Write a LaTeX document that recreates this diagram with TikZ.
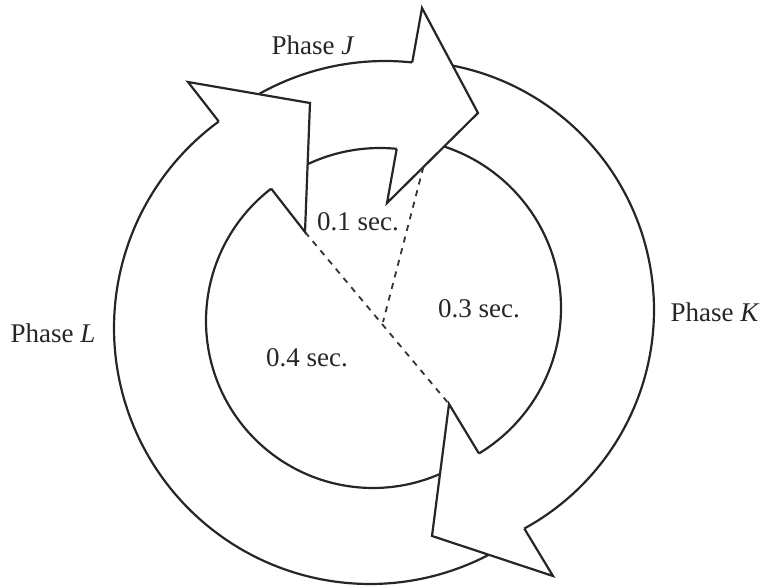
\documentclass[tikz,border=0pt]{standalone}
\usepackage{fontspec}
\setmainfont{Liberation Serif}
\usetikzlibrary{intersections,calc}
\begin{document}
\begin{tikzpicture}[x=1pt,y=-1pt, line join=miter,
  edge/.style={line width=2.2pt, draw=black!85},
  sep/.style={line width=1.8pt, draw=black!80, dash pattern=on 6pt off 6pt},
  lbl/.style={font=\fontsize{27}{31}\selectfont, text=black!85, inner sep=0pt}]
\useasboundingbox (0,0) rectangle (761,588);

% ---- shafts (circular arcs, ends hidden under arrowheads)
% Phase L
\draw[edge, name path=Lo] plot[domain=60:240, samples=90, smooth] ({370+256*cos(\x)},{328+256*sin(\x)});
\draw[edge, name path=Li] plot[domain=60:240, samples=90, smooth] ({373+167*cos(\x)},{321+167*sin(\x)});
% Phase J
\draw[edge, name path=Jo] plot[domain=238:282, samples=30, smooth] ({385+257*cos(\x)},{318+257*sin(\x)});
\draw[edge, name path=Ji] plot[domain=240:285, samples=30, smooth] ({380+170*cos(\x)},{318+170*sin(\x)});
% Phase K
\draw[edge, name path=Ko] plot[domain=-84:65, samples=80, smooth] ({405+249*cos(\x)},{310+249*sin(\x)});
\draw[edge, name path=Ki] plot[domain=-78:66, samples=80, smooth] ({391+170*cos(\x)},{308+170*sin(\x)});

% ---- arrowhead corners
\coordinate (Lbo) at (188,82);  \coordinate (Lt) at (310,103); \coordinate (Lbi) at (305,232);
\coordinate (Jbo) at (422,8);   \coordinate (Jt) at (478,113); \coordinate (Jbi) at (387,203);
\coordinate (Kbo) at (553,576); \coordinate (Kt) at (432,536); \coordinate (Kbi) at (449,404);

% back edges and notches
\path[name path=Lb] (Lbo) -- (Lbi);
\path[name path=Jb] (Jbo) -- (Jbi);
\path[name path=Kb] (Kbo) -- (Kbi);
\path[name intersections={of=Lo and Lb, by=Lno}];
\path[name intersections={of=Li and Lb, by=Lni}];
\path[name intersections={of=Jo and Jb, by=Jno}];
\path[name intersections={of=Ji and Jb, by=Jni}];
\path[name intersections={of=Ko and Kb, by=Kno}];
\path[name intersections={of=Ki and Kb, by=Kni}];

% ---- arrowheads
\fill[white] (Lbo) -- (Lt) -- (Lbi) -- cycle;
\draw[edge] (Lno) -- (Lbo) -- (Lt) -- (Lbi) -- (Lni);
\fill[white] (Jbo) -- (Jt) -- (Jbi) -- cycle;
\draw[edge] (Jno) -- (Jbo) -- (Jt) -- (Jbi) -- (Jni);
\fill[white] (Kbo) -- (Kt) -- (Kbi) -- cycle;
\draw[edge] (Kno) -- (Kbo) -- (Kt) -- (Kbi) -- (Kni);

% ---- dashed separators
\coordinate (c) at (383,322);
\coordinate (jb) at ($(Jt)!0.6!(Jbi)$);
\draw[sep] (Lbi) -- (Kbi);
\draw[sep] (jb) -- (c);

% ---- labels
\node[lbl] (pj) at (313,45) {Phase \textit{J}};
\node[lbl] (pk) at (715,312) {Phase \textit{K}};
\node[lbl] (pl) at (53,333) {Phase \textit{L}};
\node[lbl] (t1) at (358,222) {0.1 sec.};
\node[lbl] (t3) at (479,309) {0.3 sec.};
\node[lbl] (t4) at (307,358) {0.4 sec.};
\end{tikzpicture}
\end{document}
